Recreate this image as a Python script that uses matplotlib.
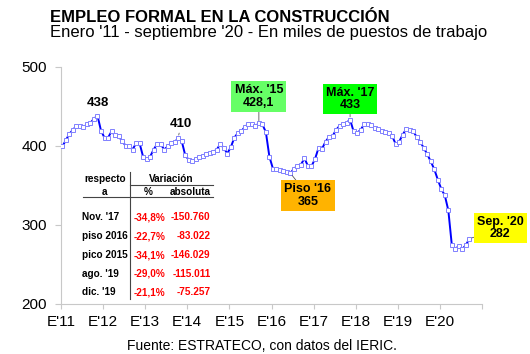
import numpy as np
import matplotlib
matplotlib.use("Agg")
import matplotlib.pyplot as plt
from matplotlib.lines import Line2D

plt.rcParams["font.family"] = ["Liberation Sans", "DejaVu Sans"]

# Employment, thousands of jobs, monthly Jan 2011 .. Sep 2020
empleo = [
    399, 407, 415, 420, 425, 425, 423, 427, 429, 434, 438, 419,   # 2011
    410, 410, 418, 413, 412, 406, 400, 400, 395, 403, 403, 386,   # 2012
    383, 386, 395, 402, 402, 395, 399, 403, 404, 410, 406, 388,   # 2013
    382, 380, 383, 386, 387, 390, 391, 392, 395, 402, 397, 390,   # 2014
    398, 410, 416, 418, 424, 427, 427, 425, 428.1, 427, 417, 386,  # 2015
    371, 370, 369, 368, 367, 365, 371, 374, 376, 384, 374, 374,   # 2016
    383, 397, 396, 405, 411, 412, 420, 425, 427, 429, 433, 418,   # 2017
    416, 420, 427, 427, 426, 422, 421, 418, 417, 416, 412, 402,   # 2018
    405, 414, 421, 420, 418, 411, 405, 397, 389, 380, 370, 357,   # 2019
    345, 337, 318, 274, 269, 273, 269, 274, 282,                  # 2020
]
year_labels = ["E'11", "E'12", "E'13", "E'14", "E'15", "E'16", "E'17", "E'18", "E'19", "E'20"]

# comparison table
ref_labels = ["Nov. '17", "piso 2016", "pico 2015", "ago. '19", "dic. '19"]
var_pct = ["-34,8%", "-22,7%", "-34,1%", "-29,0%", "-21,1%"]
var_abs = ["-150.760", "-83.022", "-146.029", "-115.011", "-75.257"]

W, H = 530, 354
fig = plt.figure(figsize=(W / 100, H / 100), dpi=100)
ax = fig.add_axes([61 / W, 1 - 303.5 / H, 421 / W, 236.8 / H])

def px(x, y):
    return (x / W, 1 - y / H)

idx = np.arange(len(empleo))
ax.plot(idx, empleo, color="#0000ff", lw=1.4, marker="s", ms=3.2,
        mfc="white", mec="#8080ff", mew=0.7, zorder=3)

ax.set_xlim(-0.4, 119.6)
ax.set_ylim(200, 500)
ax.set_yticks([200, 300, 400, 500])
ax.set_xticks(np.arange(11) * 12 - 0.4)
ax.set_xticklabels(year_labels + [""])
for s in ["top", "right"]:
    ax.spines[s].set_visible(False)
for s in ["left", "bottom"]:
    ax.spines[s].set_color("#c8c8c8")
ax.tick_params(axis="both", colors="#c8c8c8", labelcolor="black", labelsize=11)
ax.tick_params(axis="y", length=4, pad=6)
ax.tick_params(axis="x", length=3.5, pad=5)

# annotations
ax.text(10, 454, "438", ha="center", va="center", fontsize=9.5, fontweight="bold")
ax.annotate("410", xy=(33, 410), xytext=(33.8, 427), ha="center", va="center",
            fontsize=9.5, fontweight="bold",
            arrowprops=dict(arrowstyle="-", color="#555555", lw=0.6, shrinkA=6, shrinkB=2))

boxes = [
    ("Máx. '15\n428,1", 56, 428.1, (56.0, 462), "#66ff66"),
    ("Máx. '17\n433", 82, 433, (82.0, 459), "#00ff00"),
    ("Piso '16\n365", 65, 365, (70.0, 337), "#ffb300"),
    ("Sep. '20\n282", 116, 282, (124.8, 295.5), "#ffff00"),
]
for txt, xi, yv, pos, col in boxes:
    ax.annotate(txt, xy=(xi, yv), xytext=pos, ha="center", va="center",
                fontsize=9, fontweight="bold", linespacing=1.05,
                bbox=dict(boxstyle="square,pad=0.25", fc=col, ec="none"),
                arrowprops=dict(arrowstyle="-", color="#555555", lw=0.6, shrinkA=0, shrinkB=2),
                annotation_clip=False, zorder=5)

# titles
fig.text(*px(50, 17.5), "EMPLEO FORMAL EN LA CONSTRUCCIÓN", fontsize=12,
         fontweight="bold", va="center", ha="left")
fig.text(*px(50, 32), "Enero '11 - septiembre '20 - En miles de puestos de trabajo",
         fontsize=12, va="center", ha="left")
fig.text(*px(262, 345.5), "Fuente: ESTRATECO, con datos del IERIC.", fontsize=10,
         va="center", ha="center")

# table
tfs = 7.2
fig.text(*px(105, 178.5), "respecto", fontsize=tfs, fontweight="bold", ha="center", va="center")
fig.text(*px(105, 192.3), "a", fontsize=tfs, fontweight="bold", ha="center", va="center")
fig.text(*px(171, 179), "Variación", fontsize=tfs, fontweight="bold", ha="center", va="center")
fig.text(*px(148.3, 192.3), "%", fontsize=tfs, fontweight="bold", ha="center", va="center")
fig.text(*px(190, 192.3), "absoluta", fontsize=tfs, fontweight="bold", ha="center", va="center")
row_y = [217.3, 236.3, 255.3, 273.8, 292.3]
for lab, p, a, y in zip(ref_labels, var_pct, var_abs, row_y):
    fig.text(*px(82, y), lab, fontsize=tfs, fontweight="bold", ha="left", va="center")
    fig.text(*px(165, y), p, fontsize=tfs, fontweight="bold", ha="right", va="center", color="red")
    fig.text(*px(210.5, y), a, fontsize=tfs, fontweight="bold", ha="right", va="center", color="red")

lines = [
    ((129.5, 129.5), (171.5, 298.5)),
    ((130, 212.5), (184.5, 184.5)),
    ((83, 212.5), (196.8, 196.8)),
]
for xs, ys in lines:
    fig.add_artist(Line2D([x / W for x in xs], [1 - y / H for y in ys],
                          color="#444444", lw=0.8))

fig.savefig("out.png", dpi=100)
